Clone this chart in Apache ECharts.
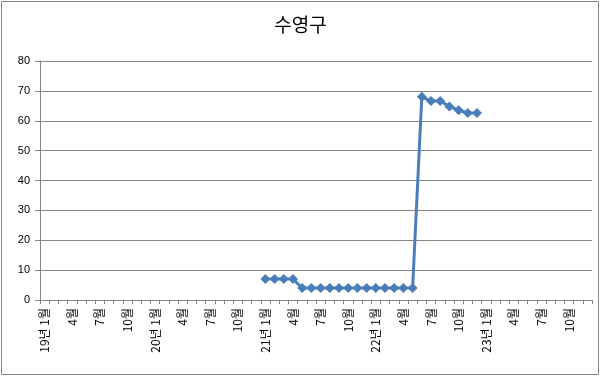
<!DOCTYPE html>
<html>
<head>
<meta charset="utf-8">
<script src="https://cdn.jsdelivr.net/npm/echarts@6/dist/echarts.min.js"></script>
<style>
    body { margin: 0; background: #fff; }
    #chart { width: 601px; height: 377px; }
</style>
</head>
<body>
<div id="chart"></div>
<script>
// 연도 / 월
let years = ["19", "20", "21", "22", "23"];
let months = [1, 2, 3, 4, 5, 6, 7, 8, 9, 10, 11, 12];

// 수영구 값 (21년 1월 ~ 22년 12월), 나머지는 빈 값
let values2021 = [7, 7, 7, 7, 4, 4, 4, 4, 4, 4, 4, 4];
let values2022 = [4, 4, 4, 4, 4, 68, 66.6, 66.6, 64.8, 63.5, 62.6, 62.6];

let yTicks = [0, 10, 20, 30, 40, 50, 60, 70, 80];

// 카테고리 만들기
let categories = [];
for (let y of years) {
    for (let m of months) {
        categories.push(m === 1 ? y + "년 " + m + "월" : m + "월");
    }
}

let empty = new Array(12).fill(null);
let seriesData = [].concat(empty, empty, values2021, values2022, empty);

let mychart = echarts.init(document.getElementById("chart"));
let options = {
    animation: false,
    title: {
        text: "수영구",
        left: "center",
        top: 10,
        textStyle: {
            fontSize: 19,
            fontWeight: "normal",
            color: "#000",
            fontFamily: "Noto Sans CJK KR"
        }
    },
    graphic: [{
        type: "rect",
        shape: { x: 1.5, y: 1.5, width: 597, height: 373 },
        style: { fill: "none", stroke: "#868686", lineWidth: 1 }
    }],
    grid: {
        left: 40,
        right: 9,
        top: 61,
        bottom: 77
    },
    xAxis: {
        type: "category",
        data: categories,
        boundaryGap: true,
        axisLine: { lineStyle: { color: "#868686" } },
        axisTick: { show: true, interval: 0, length: 4, lineStyle: { color: "#868686" } },
        axisLabel: {
            interval: 2,
            rotate: 90,
            margin: 8,
            fontSize: 12,
            color: "#000",
            fontFamily: "Noto Sans CJK KR"
        },
        splitLine: { show: false }
    },
    yAxis: {
        type: "value",
        min: yTicks[0],
        max: yTicks[yTicks.length - 1],
        interval: 10,
        axisLine: { show: true, lineStyle: { color: "#868686" } },
        axisTick: { show: true, length: 5, lineStyle: { color: "#868686" } },
        axisLabel: { fontSize: 11, color: "#000", margin: 10, fontFamily: "Liberation Sans" },
        splitLine: { lineStyle: { color: "#868686" } }
    },
    series: [{
        type: "line",
        data: seriesData,
        symbol: "diamond",
        symbolSize: 10,
        showSymbol: true,
        showAllSymbol: true,
        connectNulls: false,
        lineStyle: { color: "#4a7ebb", width: 3 },
        itemStyle: { color: "#4a7ebb" }
    }]
};
mychart.setOption(options);
</script>
</body>
</html>
